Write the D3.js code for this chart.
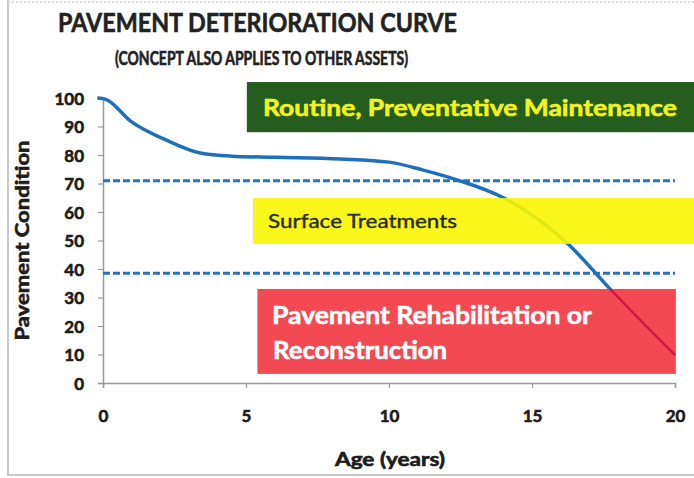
<!DOCTYPE html>
<html>
<head>
<meta charset="utf-8">
<script src="https://cdn.jsdelivr.net/npm/d3@7"></script>
<style>
  body { margin: 0; background: #fff; }
  text { font-family: Lato, "Open Sans", sans-serif; }
</style>
</head>
<body>
<svg width="694" height="478"></svg>
<script>
// curve
const ages = [-0.2, 0.1, 1, 2.2, 3.4, 4.5, 6, 8.3, 10, 11.2, 12.4, 14, 16.3, 17.7, 20];
const condition = [100, 99.5, 91.6, 85.3, 80.7, 79.6, 79.2, 78.6, 77.5, 74.7, 71.2, 65, 48.4, 33.3, 9.8];
const thresholds = [71, 38.5];
const xTicks = [0, 5, 10, 15, 20];
const yTicks = [0, 10, 20, 30, 40, 50, 60, 70, 80, 90, 100];
const bandNames = ['Routine, Preventative Maintenance', 'Surface Treatments', 'Pavement Rehabilitation or|Reconstruction'];
const bandTop = [105.6, 64.9, 33];
const bandBottom = [88, 48.8, 3.2];

const svg = d3.select('svg');
const width = +svg.attr('width');
const height = +svg.attr('height');

const x = d3.scaleLinear().domain([0, 20]).range([103, 675]);
const y = d3.scaleLinear().domain([0, 100]).range([383, 98]);

const ink = '#1c1c1c';
// thicker look, like the scanned Calibri bold
function heavy(sel, col) {
  return sel.attr('fill', col).attr('stroke', col).attr('stroke-width', 0.6)
    .style('paint-order', 'stroke');
}

// scan frame
svg.append('line').attr('x1', 8).attr('x2', 8).attr('y1', 0).attr('y2', 476)
  .attr('stroke', '#c8c8c8').attr('stroke-width', 2);
svg.append('line').attr('x1', 8).attr('x2', width).attr('y1', 475).attr('y2', 475)
  .attr('stroke', '#c8c8c8').attr('stroke-width', 2);
svg.append('line').attr('x1', 8).attr('x2', width).attr('y1', 2).attr('y2', 2)
  .attr('stroke', '#dcdcdc').attr('stroke-width', 2).attr('stroke-dasharray', '2,2');

// titles
heavy(svg.append('text').attr('x', 58).attr('y', 32)
  .attr('font-size', 27).attr('font-weight', 'bold')
  .attr('textLength', 399).attr('lengthAdjust', 'spacingAndGlyphs')
  .text('PAVEMENT DETERIORATION CURVE'), '#222');
heavy(svg.append('text').attr('x', 115).attr('y', 65)
  .attr('font-size', 18).attr('font-weight', 'bold')
  .attr('textLength', 293).attr('lengthAdjust', 'spacingAndGlyphs')
  .text('(CONCEPT ALSO APPLIES TO OTHER ASSETS)'), '#222');

// axes
const yAxis = svg.append('g').attr('transform', `translate(${x(0)},0)`)
  .call(d3.axisLeft(y).tickValues(yTicks).tickSize(5).tickPadding(14));
const xAxis = svg.append('g').attr('transform', `translate(0,${y(0)})`)
  .call(d3.axisBottom(x).tickValues(xTicks).tickSize(5).tickPadding(22));
[yAxis, xAxis].forEach(a => {
  a.select('.domain').attr('stroke', '#9a9a9a').attr('stroke-width', 1.5);
  a.selectAll('.tick line').attr('stroke', '#9a9a9a').attr('stroke-width', 1.2);
  heavy(a.selectAll('.tick text').attr('font-size', 17).attr('font-weight', 'bold')
    .style('font-family', 'Lato, sans-serif'), ink);
});
yAxis.selectAll('.tick text').attr('dy', '0.36em');

heavy(svg.append('text')
  .attr('transform', `translate(29,${(y(0) + y(100)) / 2}) rotate(-90)`)
  .attr('text-anchor', 'middle').attr('font-size', 18).attr('font-weight', 'bold')
  .attr('textLength', 200).attr('lengthAdjust', 'spacingAndGlyphs')
  .text('Pavement Condition'), ink);
heavy(svg.append('text').attr('x', 390).attr('y', 466)
  .attr('text-anchor', 'middle').attr('font-size', 18).attr('font-weight', 'bold')
  .attr('textLength', 110).attr('lengthAdjust', 'spacingAndGlyphs')
  .text('Age (years)'), ink);

// threshold lines
svg.selectAll('.thr').data(thresholds).join('line')
  .attr('class', 'thr')
  .attr('x1', x(0)).attr('x2', x(20))
  .attr('y1', d => y(d)).attr('y2', d => y(d))
  .attr('stroke', '#2573c4').attr('stroke-width', 3)
  .attr('stroke-dasharray', '7,3');

// curve
const pts = ages.map((a, i) => [a, condition[i]]);
const line = d3.line().x(d => x(d[0])).y(d => y(d[1])).curve(d3.curveMonotoneX);
svg.append('path')
  .datum(pts)
  .attr('fill', 'none').attr('stroke', '#1f6fbf').attr('stroke-width', 3.5)
  .attr('d', line);

// treatment bands over the curve
const bandFill = ['#255d1e', '#f8f500', '#f13f4a'];
const bandOpacity = [1, 0.9, 0.95];
const bandLeft = [5.03, 5.24, 5.4];
const bandRight = [21.2, 21.2, 20.03];
const bandText = ['#f3f31c', '#2a2a1a', '#fff'];

bandNames.forEach((name, i) => {
  svg.append('rect')
    .attr('x', x(bandLeft[i])).attr('y', y(bandTop[i]))
    .attr('width', x(bandRight[i]) - x(bandLeft[i]))
    .attr('height', y(bandBottom[i]) - y(bandTop[i]))
    .attr('fill', bandFill[i]).attr('fill-opacity', bandOpacity[i]);
});

// the curve shows through the red band in crimson
svg.append('clipPath').attr('id', 'redclip').append('rect')
  .attr('x', x(bandLeft[2])).attr('y', y(bandTop[2]))
  .attr('width', x(bandRight[2]) - x(bandLeft[2]))
  .attr('height', y(bandBottom[2]) - y(bandTop[2]));
svg.append('path')
  .datum(pts)
  .attr('clip-path', 'url(#redclip)')
  .attr('fill', 'none').attr('stroke', '#cc1240').attr('stroke-width', 2)
  .attr('d', line);

heavy(svg.append('text').attr('x', 263).attr('y', 116)
  .attr('font-size', 23).attr('font-weight', 'bold')
  .attr('textLength', 414).attr('lengthAdjust', 'spacingAndGlyphs')
  .text(bandNames[0]), bandText[0]);
svg.append('text').attr('x', 268).attr('y', 228)
  .attr('font-size', 20).attr('font-weight', 'normal').attr('fill', bandText[1])
  .attr('stroke', bandText[1]).attr('stroke-width', 0.4)
  .attr('textLength', 189).attr('lengthAdjust', 'spacingAndGlyphs')
  .text(bandNames[1]);
const redLines = bandNames[2].split('|');
heavy(svg.append('text').attr('x', 272).attr('y', 324)
  .attr('font-size', 25).attr('font-weight', 'bold')
  .attr('textLength', 320).attr('lengthAdjust', 'spacingAndGlyphs')
  .text(redLines[0]), bandText[2]);
heavy(svg.append('text').attr('x', 273).attr('y', 359)
  .attr('font-size', 25).attr('font-weight', 'bold')
  .attr('textLength', 174).attr('lengthAdjust', 'spacingAndGlyphs')
  .text(redLines[1]), bandText[2]);
</script>
</body>
</html>
